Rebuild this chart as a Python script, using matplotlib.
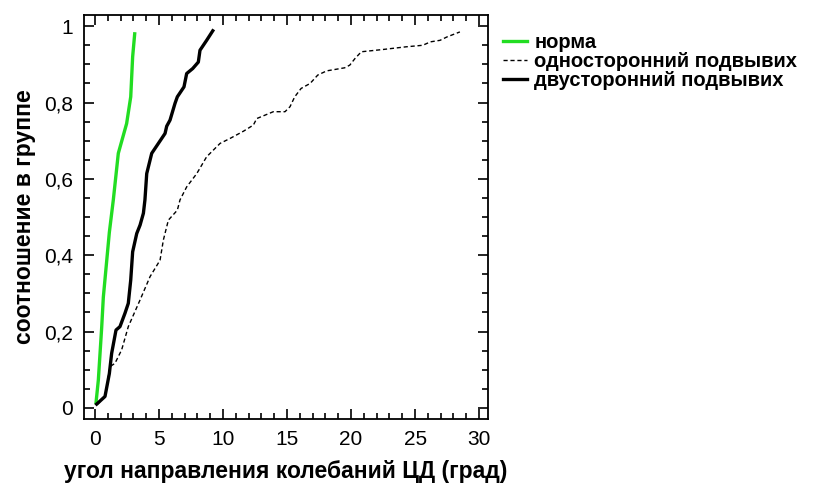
import numpy as np
import matplotlib.pyplot as plt
from matplotlib.ticker import MultipleLocator, FuncFormatter

# cumulative share of group vs. angle (degrees)
norm_x = [0.08, 0.26, 0.52, 0.65, 1.12, 1.43, 1.82, 2.47, 2.79, 2.94, 3.10]
norm_y = [0.014, 0.073, 0.21, 0.29, 0.46, 0.545, 0.667, 0.745, 0.815, 0.92, 0.98]

uni_x = [0.2, 0.78, 1.17, 1.56, 2.08, 2.6, 3.52, 4.3, 5.08, 5.34, 5.73, 6.43, 6.64,
         7.16, 7.95, 8.72, 9.77, 10.55, 11.6, 12.37, 12.63, 13.93, 14.84, 15.23,
         15.6, 16.1, 16.8, 17.4, 18.1, 19.5, 19.9, 20.3, 20.8, 22.5, 24.3, 25.6,
         26.2, 26.95, 27.5, 28.5]
uni_y = [0.01, 0.03, 0.108, 0.117, 0.152, 0.213, 0.283, 0.344, 0.387, 0.44, 0.492,
         0.518, 0.545, 0.579, 0.614, 0.658, 0.693, 0.706, 0.725, 0.741, 0.758,
         0.776, 0.776, 0.789, 0.815, 0.837, 0.85, 0.872, 0.883, 0.891, 0.898,
         0.915, 0.933, 0.939, 0.946, 0.95, 0.959, 0.963, 0.972, 0.985]

bi_x = [0.13, 0.78, 1.12, 1.3, 1.64, 1.95, 2.34, 2.6, 2.79, 2.94, 3.26, 3.52, 3.78,
        3.9, 4.04, 4.43, 4.95, 5.47, 5.6, 5.86, 6.25, 6.43, 6.95, 7.16, 7.63,
        8.07, 8.2, 8.72, 9.2]
bi_y = [0.01, 0.03, 0.09, 0.143, 0.204, 0.213, 0.248, 0.274, 0.335, 0.409, 0.457,
        0.479, 0.51, 0.545, 0.614, 0.667, 0.693, 0.719, 0.738, 0.754, 0.798,
        0.815, 0.841, 0.876, 0.889, 0.906, 0.937, 0.963, 0.988]

labels = ["норма", "односторонний подвывих", "двусторонний подвывих"]

plt.rcParams['font.family'] = ['Liberation Sans', 'DejaVu Sans']

fig = plt.figure(figsize=(8.4, 4.88), dpi=100)
ax = fig.add_axes([0.1, 0.1414, 0.481, 0.8276])

ax.plot(norm_x, norm_y, color='#22dd22', lw=2.4, label=labels[0])
ax.plot(uni_x, uni_y, color='black', lw=1.0, ls=(0, (3, 2)), label=labels[1])
ax.plot(bi_x, bi_y, color='black', lw=2.4, label=labels[2])

ax.set_xlim(-0.86, 30.7)
ax.set_ylim(-0.029, 1.029)
ax.xaxis.set_major_locator(MultipleLocator(5))
ax.xaxis.set_minor_locator(MultipleLocator(1))
ax.yaxis.set_major_locator(MultipleLocator(0.2))
ax.yaxis.set_minor_locator(MultipleLocator(0.05))
ax.yaxis.set_major_formatter(FuncFormatter(lambda v, p: f"{v:g}".replace('.', ',')))
ax.tick_params(which='both', direction='in', top=True, right=True, width=1.2,
               labelsize=15, pad=8)
ax.tick_params(which='major', length=7)
ax.tick_params(which='minor', length=4)
for s in ax.spines.values():
    s.set_linewidth(1.3)

ax.set_xlabel("угол направления колебаний ЦД (град)", fontsize=16.5, fontweight='bold',
              labelpad=8)
ax.set_ylabel("соотношение в группе", fontsize=16.5, fontweight='bold', labelpad=6)

ax.legend(loc='upper left', bbox_to_anchor=(1.037, 0.955), frameon=False,
          handlelength=1.2, handletextpad=0.36, labelspacing=0.0, borderpad=0,
          prop={'size': 14.5, 'weight': 'bold'}, borderaxespad=0)

fig.savefig("out.png", dpi=100)
